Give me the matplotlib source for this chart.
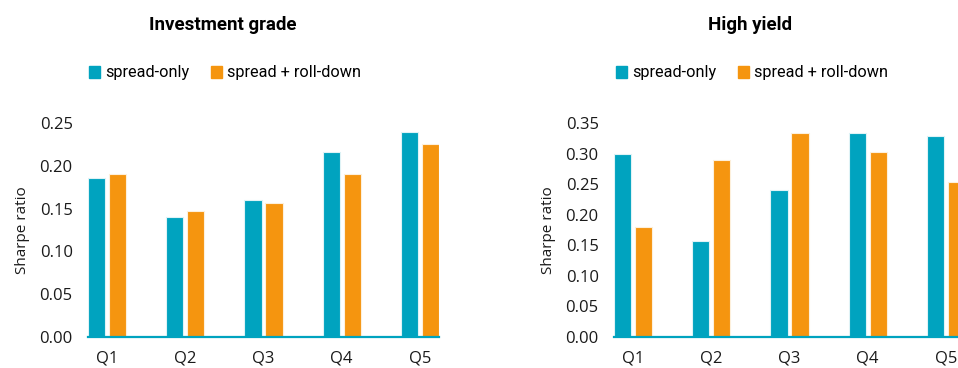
import matplotlib
matplotlib.use("Agg")
import matplotlib.pyplot as plt
from matplotlib.patches import Patch
import numpy as np

quintiles = ["Q1", "Q2", "Q3", "Q4", "Q5"]
series_names = ["spread-only", "spread + roll-down"]

ig_spread = [0.186, 0.140, 0.160, 0.216, 0.240]
ig_rolldown = [0.190, 0.147, 0.156, 0.190, 0.226]

hy_spread = [0.300, 0.157, 0.241, 0.333, 0.329]
hy_rolldown = [0.180, 0.289, 0.333, 0.302, 0.254]

BLUE = "#00A3BF"
ORANGE = "#F5950F"

narrow = ["Liberation Sans Narrow", "Roboto", "DejaVu Sans"]
tick_font = ["Open Sans", "Noto Sans", "DejaVu Sans"]

fig = plt.figure(figsize=(9.58, 3.68), dpi=100)

bottom = 1 - 337 / 368
height = (337 - 123) / 368
panels = [
    (88 / 958, ig_spread, ig_rolldown, 0.25, "Investment grade", 223 / 958),
    (614 / 958, hy_spread, hy_rolldown, 0.35, "High yield", 750 / 958),
]

x = np.arange(len(quintiles))
w = 0.22
off = 0.135

for left, s1, s2, top, title, cx in panels:
    ax = fig.add_axes([left, bottom, 351 / 958, height])
    ax.bar(x - off, s1, w, color=BLUE, edgecolor="#dff3f6", linewidth=0.8)
    ax.bar(x + off, s2, w, color=ORANGE, edgecolor="#fdf0dc", linewidth=0.8)
    ax.set_xlim(-0.245, len(quintiles) - 1 + 0.245)
    ax.set_ylim(0, top)
    yt = np.arange(0, top + 0.001, 0.05)
    ax.set_yticks(yt)
    ax.set_yticklabels([f"{v:.2f}" for v in yt])
    ax.set_xticks(x)
    ax.set_xticklabels(quintiles)
    for sp in ["top", "right", "left"]:
        ax.spines[sp].set_visible(False)
    ax.spines["bottom"].set_color(BLUE)
    ax.spines["bottom"].set_linewidth(1.6)
    ax.tick_params(axis="both", length=0, labelsize=12, colors="#1a1a1a")
    ax.tick_params(axis="y", pad=11)
    ax.tick_params(axis="x", pad=10)
    for lab in ax.get_xticklabels() + ax.get_yticklabels():
        lab.set_fontfamily(tick_font)
    ax.set_ylabel("Sharpe ratio", fontsize=11, family=tick_font, color="#1a1a1a")
    ax.yaxis.set_label_coords(-0.165, 0.5)

    fig.text(cx, 1 - 25 / 368, title, ha="center", va="center",
             fontsize=13.5, fontweight="bold", family=narrow)
    handles = [Patch(color=BLUE), Patch(color=ORANGE)]
    fig.legend(handles, series_names, loc="center", bbox_to_anchor=(cx + 2 / 958, 1 - 73 / 368),
               ncol=2, frameon=False, handlelength=0.7, handleheight=0.7,
               handletextpad=0.3, columnspacing=1.3,
               prop={"family": narrow, "size": 11.7})

fig.savefig("out.png", dpi=100)
